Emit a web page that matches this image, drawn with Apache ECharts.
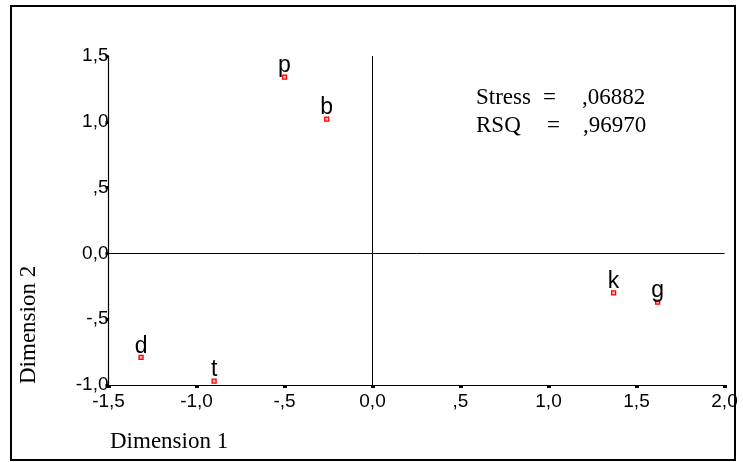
<!DOCTYPE html>
<html>
<head>
<meta charset="utf-8">
<script src="https://cdn.jsdelivr.net/npm/echarts@6/dist/echarts.min.js"></script>
<style>
html,body{margin:0;padding:0;background:#fff;}
#c{width:743px;height:462px;}
</style>
</head>
<body>
<div id="c"></div>
<script>
// Data
var pointLabels = ['p', 'b', 'k', 'g', 'd', 't'];
var dim1 = [-0.50, -0.26, 1.37, 1.62, -1.315, -0.90];
var dim2 = [1.34, 1.02, -0.30, -0.37, -0.79, -0.97];
var xTickValues = [-1.5, -1.0, -0.5, 0.0, 0.5, 1.0, 1.5, 2.0];
var yTickValues = [-1.0, -0.5, 0.0, 0.5, 1.0, 1.5];
var statNames = ['Stress', 'RSQ'];
var statValues = [',06882', ',96970'];
var xAxisTitle = 'Dimension 1';
var yAxisTitle = 'Dimension 2';

function fmt(v) {
  var r = Math.round(v * 10) / 10;
  if (r === 0) return '0,0';
  var neg = r < 0;
  var a = Math.abs(r);
  var s = a.toFixed(1).replace('.', ',');
  if (a < 1) s = s.substring(1);
  return (neg ? '-' : '') + s;
}

var chart = echarts.init(document.getElementById('c'), null, {renderer: 'canvas'});
var data = dim1.map(function (x, i) { return {value: [x, dim2[i]], name: pointLabels[i]}; });

var serif = '"Liberation Serif", "Times New Roman", serif';
function txt(x, y, s, extra) {
  var o = {type: 'text', x: x, y: y, silent: true,
    style: {text: s, fill: '#000', font: '23px ' + serif, textAlign: 'left', textVerticalAlign: 'middle'}};
  if (extra) for (var k in extra) o[k] = extra[k];
  return o;
}

var option = {
  animation: false,
  backgroundColor: '#fff',
  grid: {left: 108.5, right: 18.5, top: 56, bottom: 77, containLabel: false},
  xAxis: {
    type: 'value',
    min: xTickValues[0], max: xTickValues[xTickValues.length - 1], interval: 0.5,
    axisLine: {show: true, onZero: false, lineStyle: {color: '#000', width: 1.2}},
    axisTick: {show: true, length: 3, lineStyle: {color: '#000', width: 4}},
    axisLabel: {margin: 7, color: '#000', fontFamily: 'Liberation Sans', fontSize: 19, formatter: fmt},
    splitLine: {show: false}
  },
  yAxis: {
    type: 'value',
    min: yTickValues[0], max: yTickValues[yTickValues.length - 1], interval: 0.5,
    axisLine: {show: true, onZero: false, lineStyle: {color: '#000', width: 1.2}},
    axisTick: {show: true, length: 3, lineStyle: {color: '#000', width: 3}},
    axisLabel: {margin: 0, color: '#000', fontFamily: 'Liberation Sans', fontSize: 19, formatter: fmt},
    splitLine: {show: false}
  },
  series: [{
    type: 'scatter',
    data: data,
    symbol: 'rect',
    symbolSize: 4,
    itemStyle: {color: '#ffb0b0', borderColor: '#ff0000', borderWidth: 1.3, opacity: 1},
    label: {
      show: true, position: 'top', distance: 0, offset: [0, 3],
      formatter: function (p) { return p.name; },
      color: '#000', fontFamily: 'Liberation Sans', fontSize: 23
    },
    markLine: {
      silent: true, symbol: ['none', 'none'], label: {show: false},
      lineStyle: {color: '#000', width: 1, type: 'solid'},
      data: [{xAxis: 0}, {yAxis: 0}]
    },
    z: 5
  }],
  graphic: [
    {type: 'rect', shape: {x: 11, y: 6, width: 724, height: 454}, style: {fill: 'none', stroke: '#000', lineWidth: 2}, silent: true},
    txt(110, 442, xAxisTitle),
    txt(29, 384, yAxisTitle, {rotation: Math.PI / 2}),
    txt(476, 98, statNames[0]),
    txt(543, 98, '='),
    txt(582, 98, statValues[0]),
    txt(476, 126, statNames[1]),
    txt(547, 126, '='),
    txt(583, 126, statValues[1])
  ]
};
chart.setOption(option);
</script>
</body>
</html>
